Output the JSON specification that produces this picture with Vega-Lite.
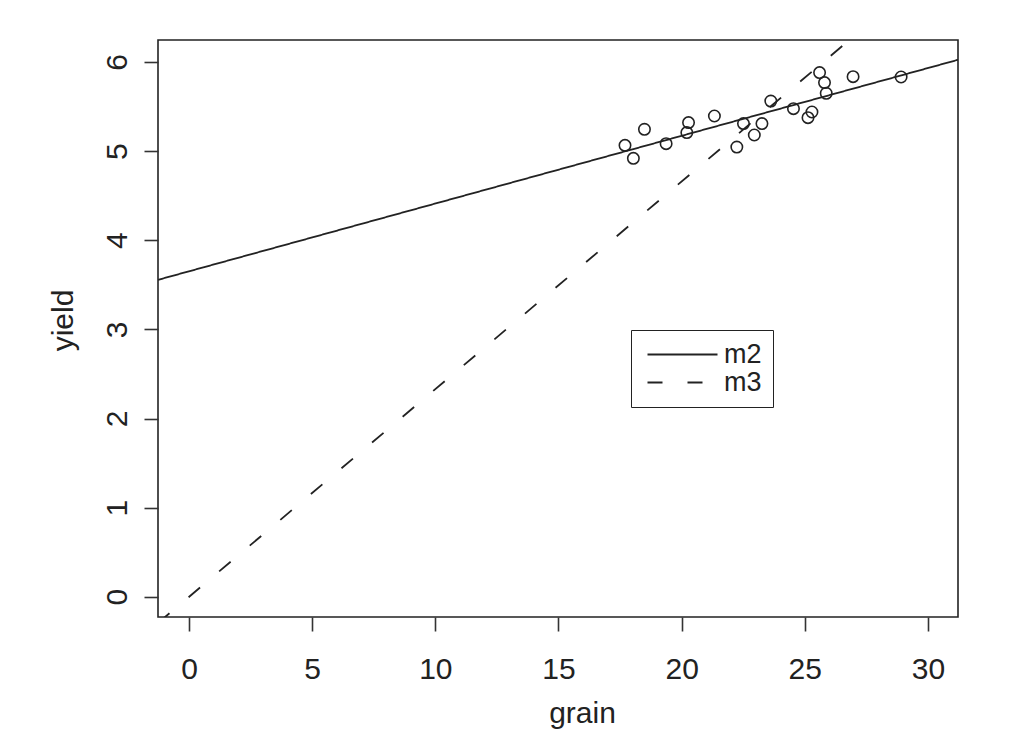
{
  "$schema": "https://vega.github.io/schema/vega-lite/v6.json",
  "width": 800,
  "height": 577,
  "autosize": {"type": "none"},
  "padding": {"left": 158, "top": 40, "right": 64, "bottom": 134},
  "background": "white",
  "config": {
    "view": {"stroke": "#222222", "strokeWidth": 1.6},
    "font": "Liberation Sans",
    "axis": {
      "grid": false,
      "domain": false,
      "tickColor": "#333333",
      "tickWidth": 1.6,
      "tickSize": 14,
      "labelFontSize": 30,
      "titleFontSize": 30,
      "titleFontWeight": "normal",
      "labelColor": "#222222",
      "titleColor": "#222222",
      "labelFont": "Liberation Sans",
      "titleFont": "Liberation Sans"
    }
  },
  "datasets": {
    "points": [
      {"grain": 17.70, "yield": 5.065},
      {"grain": 18.04, "yield": 4.919},
      {"grain": 18.49, "yield": 5.245},
      {"grain": 19.37, "yield": 5.084},
      {"grain": 20.28, "yield": 5.320},
      {"grain": 20.21, "yield": 5.208},
      {"grain": 21.33, "yield": 5.394},
      {"grain": 22.51, "yield": 5.309},
      {"grain": 23.26, "yield": 5.309},
      {"grain": 22.95, "yield": 5.181},
      {"grain": 22.24, "yield": 5.046},
      {"grain": 23.62, "yield": 5.562},
      {"grain": 24.54, "yield": 5.477},
      {"grain": 25.29, "yield": 5.439},
      {"grain": 25.13, "yield": 5.376},
      {"grain": 25.60, "yield": 5.881},
      {"grain": 25.80, "yield": 5.769},
      {"grain": 25.87, "yield": 5.649},
      {"grain": 26.96, "yield": 5.836},
      {"grain": 28.91, "yield": 5.832}
    ],
    "fits": [
      {"model": "m2", "grain": -1.26, "yield": 3.556},
      {"model": "m2", "grain": 31.22, "yield": 6.025},
      {"model": "m3", "grain": -1.26, "yield": -0.294},
      {"model": "m3", "grain": 31.22, "yield": 7.274}
    ]
  },
  "layer": [
    {
      "data": {"name": "fits"},
      "mark": {"type": "line", "clip": true, "color": "#222222", "strokeWidth": 1.8},
      "encoding": {
        "x": {
          "field": "grain", "type": "quantitative",
          "scale": {"domain": [-1.26, 31.22], "nice": false, "zero": false},
          "axis": {"values": [0, 5, 10, 15, 20, 25, 30], "format": "d", "title": "grain", "labelPadding": 23, "titlePadding": 14, "titleX": 424}
        },
        "y": {
          "field": "yield", "type": "quantitative",
          "scale": {"domain": [-0.227, 6.247], "nice": false, "zero": false},
          "axis": {"values": [0, 1, 2, 3, 4, 5, 6], "format": "d", "title": "yield", "labelAngle": -90, "labelAlign": "center", "labelBaseline": "bottom", "labelPadding": 12, "titlePadding": 24, "titleY": 280}
        },
        "strokeDash": {
          "field": "model", "type": "nominal",
          "scale": {"domain": ["m2", "m3"], "range": [[1, 0], [15, 25]]},
          "legend": {
            "title": null,
            "orient": "none",
            "legendX": 473,
            "legendY": 290,
            "strokeColor": "#222222",
            "fillColor": "white",
            "padding": 11,
            "symbolType": "M-6,0H1",
            "symbolSize": 400,
            "symbolStrokeWidth": 1.8,
            "symbolStrokeColor": "#222222",
            "symbolOffset": 52,
            "labelFontSize": 27,
            "labelOffset": 3,
            "labelColor": "#222222",
            "labelFont": "Liberation Sans",
            "rowPadding": 0
          }
        }
      }
    },
    {
      "data": {"name": "points"},
      "mark": {"type": "point", "shape": "circle", "filled": false, "color": "#222222", "size": 130, "strokeWidth": 1.6, "opacity": 1},
      "encoding": {
        "x": {"field": "grain", "type": "quantitative"},
        "y": {"field": "yield", "type": "quantitative"}
      }
    }
  ]
}
